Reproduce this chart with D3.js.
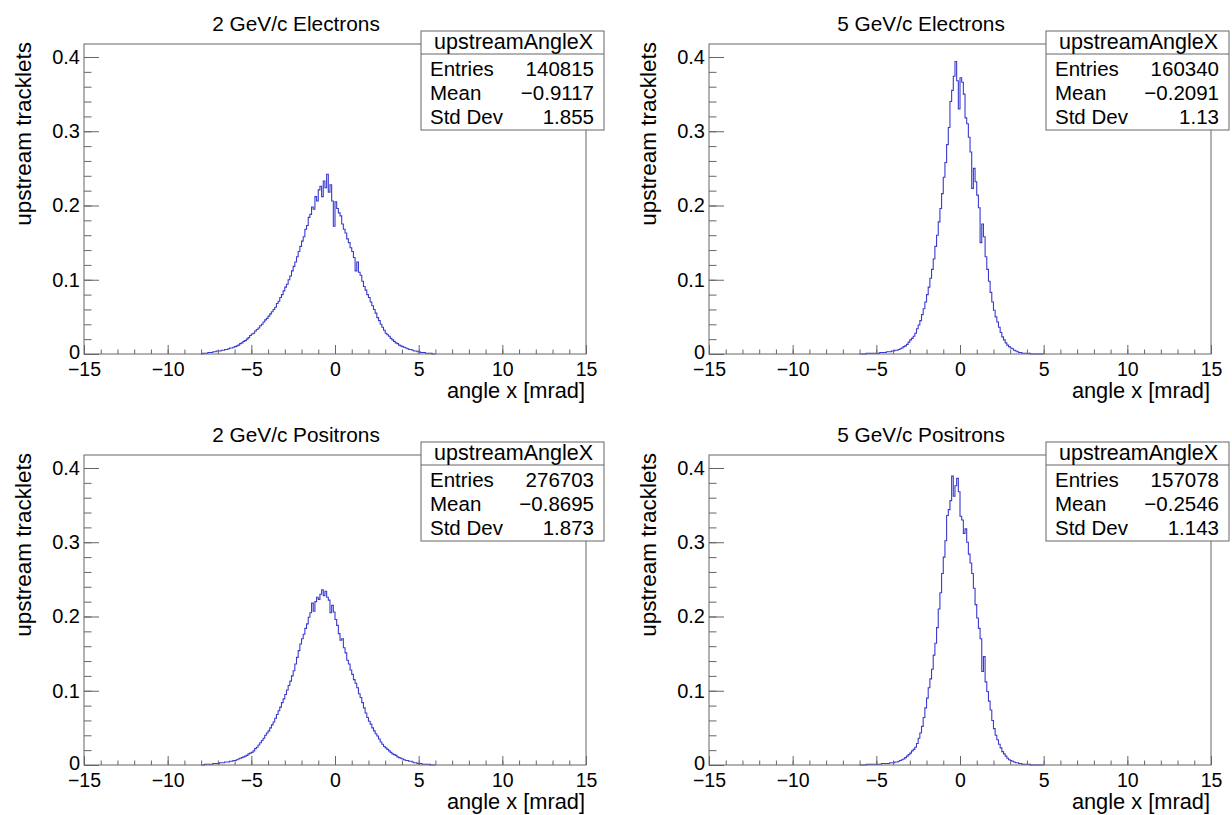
<!DOCTYPE html>
<html><head><meta charset="utf-8">
<script src="https://cdn.jsdelivr.net/npm/d3@7"></script>
<style>
body{margin:0;background:#fff}
svg{display:block}
text{font-family:"Liberation Sans",Arial,Helvetica,sans-serif;fill:#000}
</style>
</head><body>
<svg id="c" width="1232" height="815"></svg>
<script>
// ---------- data ----------
const panelTitles = ["2 GeV/c Electrons", "5 GeV/c Electrons", "2 GeV/c Positrons", "5 GeV/c Positrons"];
const statsName = "upstreamAngleX";
const statEntries = ["140815", "160340", "276703", "157078"];
const statMeans = ["\u22120.9117", "\u22120.2091", "\u22120.8695", "\u22120.2546"];
const statStdDevs = ["1.855", "1.13", "1.873", "1.143"];
const xTitle = "angle x [mrad]";
const yTitle = "upstream tracklets";
const xDomain = [-15, 15];
const yDomain = [0, 0.4175];
const xMajorTicks = [-15, -10, -5, 0, 5, 10, 15];
const yMajorTicks = [0, 0.1, 0.2, 0.3, 0.4];
const binWidth = 0.1;
const firstEdges = [-8.0, -6.0, -8.0, -6.0];

const electrons2 = [
0.000,0.001,0.001,0.001,0.002,0.002,0.002,0.003,0.003,0.004,
0.004,0.004,0.005,0.005,0.006,0.006,0.007,0.008,0.008,0.009,
0.010,0.011,0.012,0.014,0.015,0.017,0.018,0.020,0.022,0.025,
0.027,0.028,0.031,0.033,0.035,0.038,0.040,0.043,0.046,0.048,
0.051,0.054,0.057,0.060,0.063,0.068,0.071,0.076,0.080,0.085,
0.090,0.094,0.100,0.105,0.112,0.118,0.124,0.131,0.138,0.145,
0.152,0.158,0.168,0.173,0.184,0.188,0.198,0.195,0.212,0.206,
0.221,0.226,0.212,0.233,0.224,0.242,0.218,0.228,0.206,0.172,
0.205,0.196,0.190,0.186,0.175,0.168,0.163,0.155,0.150,0.143,
0.138,0.130,0.112,0.124,0.110,0.106,0.098,0.091,0.086,0.080,
0.076,0.070,0.065,0.060,0.055,0.049,0.045,0.040,0.036,0.032,
0.028,0.026,0.024,0.021,0.019,0.017,0.015,0.014,0.012,0.011,
0.010,0.009,0.008,0.007,0.006,0.006,0.005,0.004,0.004,0.003,
0.003,0.002,0.002,0.002,0.001,0.001,0.001,0.001,0.000,0.000];

const electrons5 = [
0.000,0.000,0.000,0.000,0.001,0.001,0.001,0.001,0.001,0.001,
0.001,0.001,0.002,0.002,0.002,0.002,0.003,0.003,0.003,0.004,
0.004,0.005,0.005,0.006,0.007,0.008,0.010,0.011,0.013,0.016,
0.019,0.021,0.024,0.028,0.034,0.039,0.045,0.053,0.061,0.070,
0.080,0.090,0.102,0.114,0.128,0.145,0.160,0.178,0.196,0.216,
0.238,0.258,0.282,0.305,0.340,0.355,0.374,0.394,0.368,0.330,
0.372,0.366,0.350,0.318,0.310,0.292,0.272,0.223,0.250,0.232,
0.214,0.197,0.150,0.175,0.158,0.131,0.114,0.098,0.083,0.070,
0.059,0.050,0.043,0.036,0.029,0.023,0.019,0.015,0.012,0.010,
0.008,0.007,0.005,0.004,0.003,0.002,0.002,0.001,0.001,0.001,
0.001,0.001,0.000,0.000,0.000,0.000,0.000,0.000,0.000,0.000];

const positrons2 = [
0.000,0.000,0.001,0.001,0.001,0.001,0.001,0.002,0.002,0.002,
0.002,0.003,0.003,0.003,0.004,0.004,0.004,0.005,0.005,0.006,
0.006,0.007,0.008,0.009,0.010,0.011,0.012,0.013,0.015,0.016,
0.017,0.019,0.022,0.024,0.027,0.030,0.033,0.036,0.040,0.043,
0.046,0.050,0.054,0.058,0.063,0.068,0.073,0.078,0.084,0.089,
0.095,0.101,0.107,0.113,0.120,0.127,0.136,0.145,0.154,0.163,
0.170,0.176,0.184,0.190,0.199,0.205,0.218,0.207,0.220,0.226,
0.223,0.230,0.236,0.228,0.234,0.226,0.222,0.205,0.215,0.206,
0.196,0.188,0.177,0.168,0.170,0.158,0.151,0.141,0.136,0.128,
0.122,0.115,0.110,0.104,0.096,0.091,0.084,0.077,0.070,0.064,
0.059,0.055,0.050,0.046,0.042,0.039,0.035,0.031,0.028,0.025,
0.023,0.021,0.019,0.017,0.015,0.014,0.013,0.011,0.010,0.009,
0.008,0.007,0.006,0.006,0.005,0.005,0.004,0.003,0.003,0.002,
0.002,0.002,0.001,0.001,0.001,0.001,0.001,0.000,0.000,0.000];

const positrons5 = [
0.000,0.000,0.000,0.000,0.001,0.001,0.001,0.001,0.001,0.001,
0.001,0.001,0.001,0.002,0.002,0.002,0.002,0.002,0.003,0.003,
0.003,0.004,0.004,0.005,0.006,0.007,0.008,0.010,0.012,0.014,
0.016,0.019,0.021,0.024,0.029,0.036,0.043,0.052,0.064,0.077,
0.090,0.104,0.116,0.129,0.148,0.164,0.185,0.210,0.232,0.258,
0.280,0.302,0.336,0.344,0.356,0.389,0.362,0.376,0.386,0.368,
0.335,0.330,0.312,0.318,0.300,0.284,0.272,0.258,0.238,0.216,
0.198,0.184,0.170,0.126,0.146,0.112,0.099,0.086,0.074,0.060,
0.049,0.040,0.034,0.028,0.023,0.018,0.015,0.012,0.009,0.007,
0.006,0.005,0.004,0.003,0.003,0.002,0.002,0.001,0.001,0.001,
0.001,0.001,0.000,0.000,0.000,0.000,0.000,0.000,0.000,0.000];

const histograms = [electrons2, electrons5, positrons2, positrons5];

// ---------- layout ----------
const panelOffsets = [[0,0],[625,0],[0,411],[625,411]];
const frame = {left:84, right:586, top:44, bottom:354};
const frameColor = "#666";
const lineColor = "#3a3ad0";

const svg = d3.select("#c");
const x = d3.scaleLinear().domain(xDomain).range([frame.left, frame.right]);
const y = d3.scaleLinear().domain(yDomain).range([frame.bottom, frame.top]);
const fmtX = d => d === 0 ? "0" : (d < 0 ? "\u2212" + Math.abs(d) : String(d));
const fmtY = d => d === 0 ? "0" : d3.format(".1f")(d);

histograms.forEach((vals, i) => {
  const [ox, oy] = panelOffsets[i];
  const g = svg.append("g").attr("transform", `translate(${ox},${oy})`);

  // histogram step line
  const pts = vals.map((v, k) => [firstEdges[i] + k * binWidth, v]);
  pts.push([firstEdges[i] + vals.length * binWidth, vals[vals.length - 1]]);
  const line = d3.line().x(d => x(d[0])).y(d => y(d[1])).curve(d3.curveStepAfter);
  g.append("path").datum(pts).attr("d", line)
    .attr("fill", "none").attr("stroke", lineColor).attr("stroke-width", 1.1);

  // x minor ticks
  const xMinor = d3.range(-15, 16, 1);
  g.append("g").attr("transform", `translate(0,${frame.bottom})`)
    .call(d3.axisBottom(x).tickValues(xMinor).tickSize(-4.5).tickFormat(""))
    .call(s => { s.select(".domain").remove(); s.selectAll("line").attr("stroke", frameColor); });
  // x major ticks + labels
  g.append("g").attr("transform", `translate(0,${frame.bottom})`)
    .call(d3.axisBottom(x).tickValues(xMajorTicks).tickSize(-9).tickPadding(8).tickFormat(fmtX))
    .call(s => {
      s.select(".domain").remove();
      s.selectAll("line").attr("stroke", frameColor);
      s.selectAll("text").attr("font-size", 19.5).attr("font-family", null).attr("fill", "#000");
    });
  // y minor ticks
  const yMinor = d3.range(0, 0.4101, 0.02);
  g.append("g").attr("transform", `translate(${frame.left},0)`)
    .call(d3.axisLeft(y).tickValues(yMinor).tickSize(-7.5).tickFormat(""))
    .call(s => { s.select(".domain").remove(); s.selectAll("line").attr("stroke", frameColor); });
  // y major ticks + labels
  g.append("g").attr("transform", `translate(${frame.left},0)`)
    .call(d3.axisLeft(y).tickValues(yMajorTicks).tickSize(-15).tickPadding(4).tickFormat(fmtY))
    .call(s => {
      s.select(".domain").remove();
      s.selectAll("line").attr("stroke", frameColor);
      s.selectAll("text").attr("font-size", 20).attr("font-family", null).attr("fill", "#000")
        .attr("dy", d => d === 0 ? "0.2em" : "0.32em");
    });

  // frame
  g.append("rect").attr("x", frame.left).attr("y", frame.top)
    .attr("width", frame.right - frame.left).attr("height", frame.bottom - frame.top)
    .attr("fill", "none").attr("stroke", frameColor).attr("stroke-width", 1);

  // title
  g.append("text").attr("x", 296).attr("y", 30.5).attr("text-anchor", "middle")
    .attr("font-size", 20.8).text(panelTitles[i]);

  // axis titles
  g.append("text").attr("x", frame.right - 1).attr("y", 398).attr("text-anchor", "end")
    .attr("font-size", 21.8).text(xTitle);
  g.append("text").attr("transform", `translate(31,${frame.top - 2}) rotate(-90)`)
    .attr("text-anchor", "end").attr("font-size", 22.5).text(yTitle);

  // stats box
  const sb = {x:421, y:31, w:183, h:99, sep:54};
  g.append("rect").attr("x", sb.x).attr("y", sb.y).attr("width", sb.w).attr("height", sb.h)
    .attr("fill", "#fff").attr("stroke", frameColor).attr("stroke-width", 1);
  g.append("line").attr("x1", sb.x).attr("x2", sb.x + sb.w).attr("y1", sb.sep).attr("y2", sb.sep)
    .attr("stroke", frameColor);
  g.append("text").attr("x", sb.x + sb.w / 2 + 1).attr("y", 49).attr("text-anchor", "middle")
    .attr("font-size", 21.5).text(statsName);
  const rows = [["Entries", statEntries[i]], ["Mean", statMeans[i]], ["Std Dev", statStdDevs[i]]];
  rows.forEach((r, k) => {
    g.append("text").attr("x", 430).attr("y", 76 + 24 * k).attr("font-size", 20.5).text(r[0]);
    g.append("text").attr("x", 594).attr("y", 76 + 24 * k).attr("text-anchor", "end")
      .attr("font-size", 20.5).text(r[1]);
  });
});
</script>
</body></html>
